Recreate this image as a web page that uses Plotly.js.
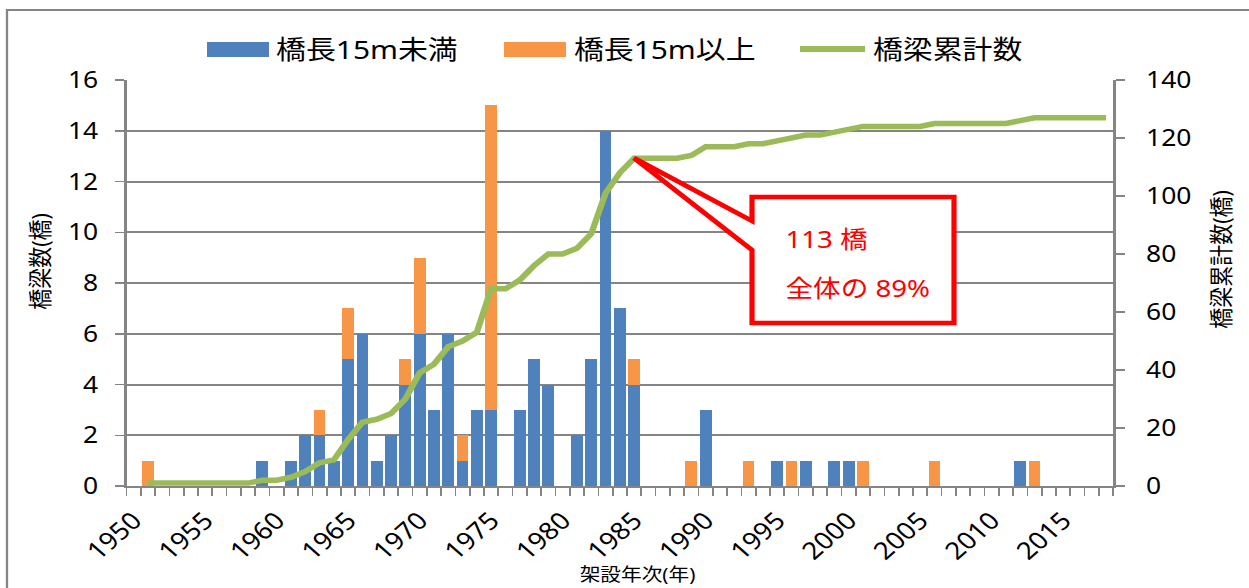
<!DOCTYPE html>
<html>
<head>
<meta charset="utf-8">
<script src="https://cdn.plot.ly/plotly-3.0.1.min.js"></script>
<style>
  html, body { margin: 0; padding: 0; background: #fff; overflow: hidden; }
  #chart { width: 1086px; height: 588px; transform: scaleX(1.15); transform-origin: 0 0; }
</style>
</head>
<body>
<div id="chart"></div>
<script>
// ---- data ----
const years = [1950,1951,1952,1953,1954,1955,1956,1957,1958,1959,
               1960,1961,1962,1963,1964,1965,1966,1967,1968,1969,
               1970,1971,1972,1973,1974,1975,1976,1977,1978,1979,
               1980,1981,1982,1983,1984,1985,1986,1987,1988,1989,
               1990,1991,1992,1993,1994,1995,1996,1997,1998,1999,
               2000,2001,2002,2003,2004,2005,2006,2007,2008,2009,
               2010,2011,2012,2013,2014,2015,2016,2017,2018];
const under15m = [0,0,0,0,0,0,0,0,0,1,
                  0,1,2,2,1,5,6,1,2,4,
                  6,3,6,1,3,3,0,3,5,4,
                  0,2,5,14,7,4,0,0,0,0,
                  3,0,0,0,0,1,0,1,0,1,
                  1,0,0,0,0,0,0,0,0,0,
                  0,0,1,0,0,0,0,0,0];
const over15m = [0,1,0,0,0,0,0,0,0,0,
                 0,0,0,1,0,2,0,0,0,1,
                 3,0,0,1,0,12,0,0,0,0,
                 0,0,0,0,0,1,0,0,0,1,
                 0,0,0,1,0,0,1,0,0,0,
                 0,1,0,0,0,0,1,0,0,0,
                 0,0,0,1,0,0,0,0,0];
const cumulative = [null,1,1,1,1,1,1,1,1,2,
                    2,3,5,8,9,16,22,23,25,30,
                    39,42,48,50,53,68,68,71,76,80,
                    80,82,87,101,108,113,113,113,113,114,
                    117,117,117,118,118,119,120,121,121,122,
                    123,124,124,124,124,124,125,125,125,125,
                    125,125,126,127,127,127,127,127,127];
const tickYears = [1950,1955,1960,1965,1970,1975,1980,1985,1990,1995,2000,2005,2010,2015];
const tickLabels = ['1950','1955','1960','1965','1970','1975','1980','1985','1990','1995','2000','2005','2010','2015'];
const seriesNames = ['橋長15m未満','橋長15m以上','橋梁累計数'];
const calloutLines = ['113 橋','全体の 89%'];
const axisTitles = {left: '橋梁数(橋)', right: '橋梁累計数(橋)', x: '架設年次(年)'};

// ---- geometry helpers (reference pixel -> paper) ----
const S = 1.15, W = 1086, H = 588;
const M = {l: 110, r: 118, t: 80, b: 102};
const PW = W - M.l - M.r, PH = H - M.t - M.b;
const px = ix => (ix / S - M.l) / PW;
const py = iy => (H - M.b - iy) / PH;

const BLUE = '#4F81BD', ORANGE = '#F79646', GREEN = '#9BBB59', GRID = '#858585', RED = '#FF0000';
const CJK = 'Noto Sans, Noto Sans CJK JP, sans-serif';

const traces = [
  {type: 'bar', name: seriesNames[0], x: years, y: under15m, marker: {color: BLUE, line: {width: 0}}},
  {type: 'bar', name: seriesNames[1], x: years, y: over15m, marker: {color: ORANGE, line: {width: 0}}},
  {type: 'scatter', mode: 'lines', name: seriesNames[2], x: years, y: cumulative, yaxis: 'y2',
   line: {color: GREEN, width: 5.5}, connectgaps: false}
];

const callout = [[752,197],[954,197],[954,323],[752,323],[752,250],[634,158],[752,221]];
const calloutPath = 'M' + callout.map(p => px(p[0]) + ',' + py(p[1])).join('L') + 'Z';

const shapes = [
  {type: 'rect', xref: 'paper', yref: 'paper', x0: px(7), x1: px(1275), y0: py(10), y1: py(620),
   line: {color: GRID, width: 2}, fillcolor: 'rgba(0,0,0,0)', layer: 'below'},
  {type: 'rect', xref: 'paper', yref: 'paper', x0: px(207), x1: px(269), y0: py(57), y1: py(42),
   fillcolor: BLUE, line: {width: 0}},
  {type: 'rect', xref: 'paper', yref: 'paper', x0: px(504), x1: px(566), y0: py(57), y1: py(42),
   fillcolor: ORANGE, line: {width: 0}},
  {type: 'line', xref: 'paper', yref: 'paper', x0: px(800), x1: px(865), y0: py(49), y1: py(49),
   line: {color: GREEN, width: 6}},
  {type: 'path', xref: 'paper', yref: 'paper', path: calloutPath,
   fillcolor: '#FFFFFF', line: {color: RED, width: 4.5}}
];

const ann = (text, x, y, size, opts) => Object.assign({
  text: text, xref: 'paper', yref: 'paper', x: x, y: y, showarrow: false,
  xanchor: 'left', yanchor: 'middle', font: {family: CJK, size: size, color: '#000'}
}, opts || {});

const annotations = [
  ann(seriesNames[0], px(274), py(49), 26),
  ann(seriesNames[1], px(571), py(49), 26),
  ann(seriesNames[2], px(870), py(49), 26),
  ann(calloutLines[0], px(783), py(238), 24, {font: {family: CJK, size: 24, color: RED}}),
  ann(calloutLines[1], px(783), py(287), 24, {font: {family: CJK, size: 24, color: RED}}),
  ann(axisTitles.left, px(40), py(261), 21, {xanchor: 'center', textangle: -90}),
  ann(axisTitles.right, px(1221), py(259), 21, {xanchor: 'center', textangle: -90}),
  ann(axisTitles.x, px(638), py(574), 18, {xanchor: 'center'})
];

const layout = {
  width: W, height: H,
  margin: M,
  paper_bgcolor: '#fff', plot_bgcolor: '#fff',
  font: {family: CJK, size: 23, color: '#000'},
  showlegend: false,
  barmode: 'stack', bargap: 0.18,
  xaxis: {
    type: 'linear', range: [1949.5, 2018.5],
    tickmode: 'array', tickvals: tickYears, ticktext: tickLabels, tickangle: -45,
    tickfont: {size: 24}, ticks: '', ticklabelstandoff: 9,
    showgrid: false, zeroline: false,
    showline: true, linecolor: GRID, linewidth: 2,
    minor: {tickmode: 'linear', tick0: 1949.5, dtick: 1, ticks: 'outside', ticklen: 8,
            tickwidth: 1.5, tickcolor: GRID, showgrid: false}
  },
  yaxis: {
    range: [0, 16], tickmode: 'linear', tick0: 0, dtick: 2,
    showgrid: true, gridcolor: GRID, gridwidth: 2, zeroline: false,
    showline: true, linecolor: GRID, linewidth: 2,
    ticks: 'outside', ticklen: 8, tickwidth: 1.5, tickcolor: GRID,
    tickfont: {size: 23}, ticklabelstandoff: 10
  },
  yaxis2: {
    overlaying: 'y', side: 'right',
    range: [0, 140], tickmode: 'linear', tick0: 0, dtick: 20,
    showgrid: false, zeroline: false,
    showline: true, linecolor: GRID, linewidth: 2,
    ticks: 'outside', ticklen: 8, tickwidth: 1.5, tickcolor: GRID,
    tickfont: {size: 23}, ticklabelstandoff: 14
  },
  shapes: shapes,
  annotations: annotations
};

Plotly.newPlot('chart', traces, layout, {displayModeBar: false, staticPlot: true});
</script>
</body>
</html>
